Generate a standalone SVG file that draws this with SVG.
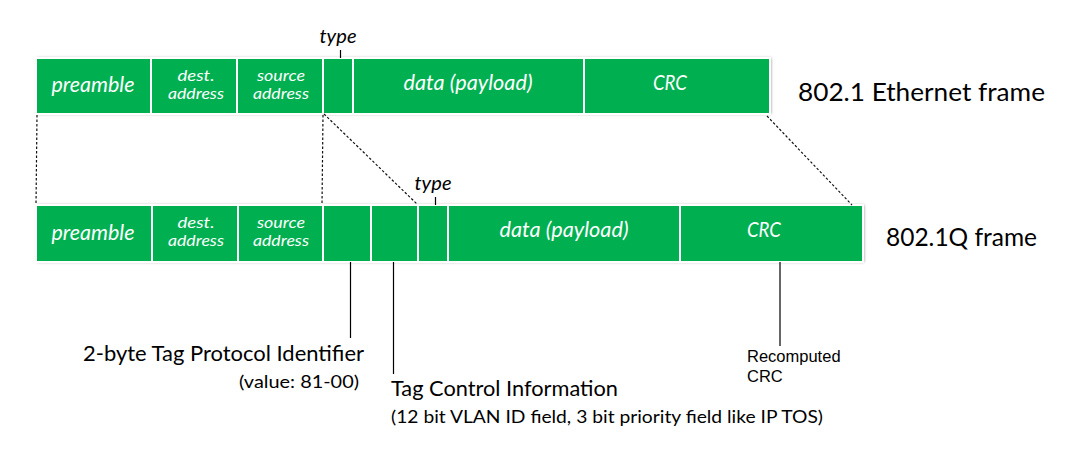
<svg xmlns="http://www.w3.org/2000/svg" width="1066" height="456" viewBox="0 0 1066 456">
<defs>
<filter id="sh" x="-5%" y="-30%" width="110%" height="160%">
<feDropShadow dx="1" dy="0" stdDeviation="1.6" flood-color="#000" flood-opacity="0.45"/>
</filter>
</defs>
<style>
.f{fill:#00B050;stroke:#fff;stroke-width:2}
.bg{fill:#00B050}
.t{font-family:Lato,"Open Sans","Liberation Sans",sans-serif;font-style:italic;fill:#fff;text-anchor:middle}
.b{font-size:21px}
.s{font-size:15px}
.k{font-family:Lato,"Open Sans","Liberation Sans",sans-serif;fill:#000}
.d{stroke:#111;stroke-width:1.2;stroke-dasharray:2.5 2;fill:none}
.l{stroke:#000;stroke-width:1.2;fill:none}
.a{font-family:"Liberation Sans",Arial,sans-serif;font-size:16.5px;fill:#000}
</style>
<rect x="0" y="0" width="1066" height="456" fill="#fff"/>

<g id="frame-ethernet">
<rect class="bg" x="36" y="58" width="734" height="56" filter="url(#sh)"/>
<g id="e-preamble"><rect class="f" x="36" y="58" width="115" height="56"/><text class="t b" x="93" y="92" textLength="83" lengthAdjust="spacingAndGlyphs">preamble</text></g>
<g id="e-dest"><rect class="f" x="151" y="58" width="86" height="56"/><text class="t s" x="196" y="81" textLength="37" lengthAdjust="spacingAndGlyphs">dest.</text><text class="t s" x="196" y="99" textLength="56" lengthAdjust="spacingAndGlyphs">address</text></g>
<g id="e-source"><rect class="f" x="237" y="58" width="86" height="56"/><text class="t s" x="281" y="81" textLength="48" lengthAdjust="spacingAndGlyphs">source</text><text class="t s" x="281" y="99" textLength="56" lengthAdjust="spacingAndGlyphs">address</text></g>
<g id="e-type"><rect class="f" x="323" y="58" width="30" height="56"/></g>
<g id="e-data"><rect class="f" x="353" y="58" width="231" height="56"/><text class="t b" x="468" y="90" textLength="129" lengthAdjust="spacingAndGlyphs">data (payload)</text></g>
<g id="e-crc"><rect class="f" x="584" y="58" width="186" height="56"/><text class="t b" x="670" y="90" textLength="34" lengthAdjust="spacingAndGlyphs">CRC</text></g>
<g id="e-type-label"><line class="l" x1="340.5" y1="50" x2="340.5" y2="58"/><text class="k" x="338" y="43" font-size="20" font-style="italic" text-anchor="middle" textLength="37" lengthAdjust="spacingAndGlyphs">type</text></g>
<g id="e-title"><text class="k" x="798" y="101" font-size="25" textLength="247" lengthAdjust="spacingAndGlyphs">802.1 Ethernet frame</text></g>
</g>

<g id="frame-8021q">
<rect class="bg" x="36" y="205" width="827" height="57" filter="url(#sh)"/>
<g id="q-preamble"><rect class="f" x="36" y="205" width="116" height="57"/><text class="t b" x="93" y="240" textLength="83" lengthAdjust="spacingAndGlyphs">preamble</text></g>
<g id="q-dest"><rect class="f" x="152" y="205" width="86" height="57"/><text class="t s" x="196" y="228" textLength="37" lengthAdjust="spacingAndGlyphs">dest.</text><text class="t s" x="196" y="246" textLength="56" lengthAdjust="spacingAndGlyphs">address</text></g>
<g id="q-source"><rect class="f" x="238" y="205" width="85" height="57"/><text class="t s" x="281" y="228" textLength="48" lengthAdjust="spacingAndGlyphs">source</text><text class="t s" x="281" y="246" textLength="56" lengthAdjust="spacingAndGlyphs">address</text></g>
<g id="q-tpid"><rect class="f" x="323" y="205" width="48" height="57"/></g>
<g id="q-tci"><rect class="f" x="371" y="205" width="47" height="57"/></g>
<g id="q-type"><rect class="f" x="418" y="205" width="30" height="57"/></g>
<g id="q-data"><rect class="f" x="448" y="205" width="232" height="57"/><text class="t b" x="564" y="237" textLength="129" lengthAdjust="spacingAndGlyphs">data (payload)</text></g>
<g id="q-crc"><rect class="f" x="680" y="205" width="183" height="57"/><text class="t b" x="764" y="237" textLength="34" lengthAdjust="spacingAndGlyphs">CRC</text></g>
<g id="q-type-label"><line class="l" x1="435.5" y1="197" x2="435.5" y2="205"/><text class="k" x="433" y="190" font-size="20" font-style="italic" text-anchor="middle" textLength="37" lengthAdjust="spacingAndGlyphs">type</text></g>
<g id="q-title"><text class="k" x="886" y="246" font-size="25" textLength="151" lengthAdjust="spacingAndGlyphs">802.1Q frame</text></g>
</g>

<g id="connectors">
<line class="d" x1="37" y1="115" x2="36" y2="205"/>
<line class="d" x1="323" y1="115" x2="322" y2="205"/>
<line class="d" x1="324" y1="114" x2="417" y2="204"/>
<line class="d" x1="767" y1="116" x2="852" y2="205"/>
<line class="l" x1="350.5" y1="262" x2="350.5" y2="338"/>
<line class="l" x1="393.5" y1="262" x2="393.5" y2="374"/>
<line class="l" x1="780" y1="262" x2="780" y2="346"/>
</g>

<g id="label-tpid">
<text class="k" x="83" y="361" font-size="22" textLength="281" lengthAdjust="spacingAndGlyphs">2-byte Tag Protocol Identifier</text>
<text class="k" x="359" y="388" font-size="17" text-anchor="end" textLength="120" lengthAdjust="spacingAndGlyphs">(value: 81-00)</text>
</g>
<g id="label-tci">
<text class="k" x="391" y="396" font-size="22" textLength="227" lengthAdjust="spacingAndGlyphs">Tag Control Information</text>
<text class="k" x="391" y="423" font-size="17" textLength="432" lengthAdjust="spacingAndGlyphs">(12 bit VLAN ID field, 3 bit priority field like IP TOS)</text>
</g>
<g id="label-crc">
<text class="a" x="747" y="362">Recomputed</text>
<text class="a" x="747" y="382">CRC</text>
</g>
</svg>
